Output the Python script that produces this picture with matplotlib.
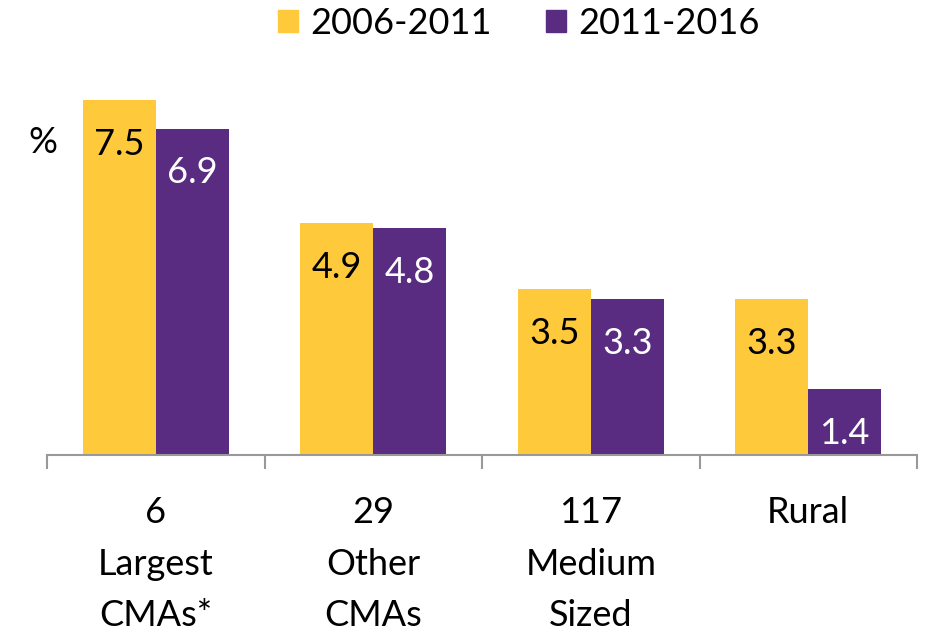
import numpy as np
import matplotlib.pyplot as plt
from matplotlib.patches import Patch

# Datos
categorias = ["6\nLargest\nCMAs*", "29\nOther\nCMAs", "117\nMedium\nSized", "Rural"]
serie_2006_2011 = [7.5, 4.9, 3.5, 3.3]
serie_2011_2016 = [6.9, 4.8, 3.3, 1.4]
nombres = ["2006-2011", "2011-2016"]

amarillo = "#FFC93C"
morado = "#592C82"

plt.rcParams['font.family'] = ['Lato', 'DejaVu Sans']
tam = 26

fig = plt.figure(figsize=(9.25, 6.33), dpi=100)
ax = fig.add_axes([0.0508, 0.2812, 0.9406, 0.598])

x = np.arange(len(categorias))
w = 0.335
b1 = ax.bar(x - w / 2, serie_2006_2011, w, color=amarillo)
b2 = ax.bar(x + w / 2, serie_2011_2016, w, color=morado)

for rect, v in zip(b1, serie_2006_2011):
    ax.annotate(f"{v}", (rect.get_x() + rect.get_width() / 2, v), xytext=(0, -32),
                textcoords="offset points", ha="center", va="center",
                fontsize=tam, color="black")
for rect, v in zip(b2, serie_2011_2016):
    ax.annotate(f"{v}", (rect.get_x() + rect.get_width() / 2, v), xytext=(0, -32),
                textcoords="offset points", ha="center", va="center",
                fontsize=tam, color="white")

ax.set_xlim(-0.5, len(categorias) - 0.5)
ax.set_ylim(0, 8)
ax.set_yticks([])
for s in ["top", "right", "left"]:
    ax.spines[s].set_visible(False)
ax.spines["bottom"].set_color("#999999")
ax.spines["bottom"].set_linewidth(1.5)

# marcas entre categorias
ax.set_xticks(np.arange(-0.5, len(categorias), 1.0))
ax.set_xticklabels([])
ax.tick_params(axis="x", length=10, width=1.5, color="#999999", direction="out")

for xi, lab in zip(x, categorias):
    ax.text(xi, -0.87, lab, ha="center", va="top", fontsize=tam,
            linespacing=1.68)

ax.text(-0.52, 6.6, "%", ha="center", va="center", fontsize=tam)

handles = [Patch(color=amarillo), Patch(color=morado)]
fig.legend(handles, nombres, loc="center", bbox_to_anchor=(0.561, 0.963), ncol=2,
           frameon=False, handlelength=0.55, handleheight=0.55,
           handletextpad=0.35, columnspacing=1.5, prop={'size': tam})

fig.savefig("out.png", dpi=100)
